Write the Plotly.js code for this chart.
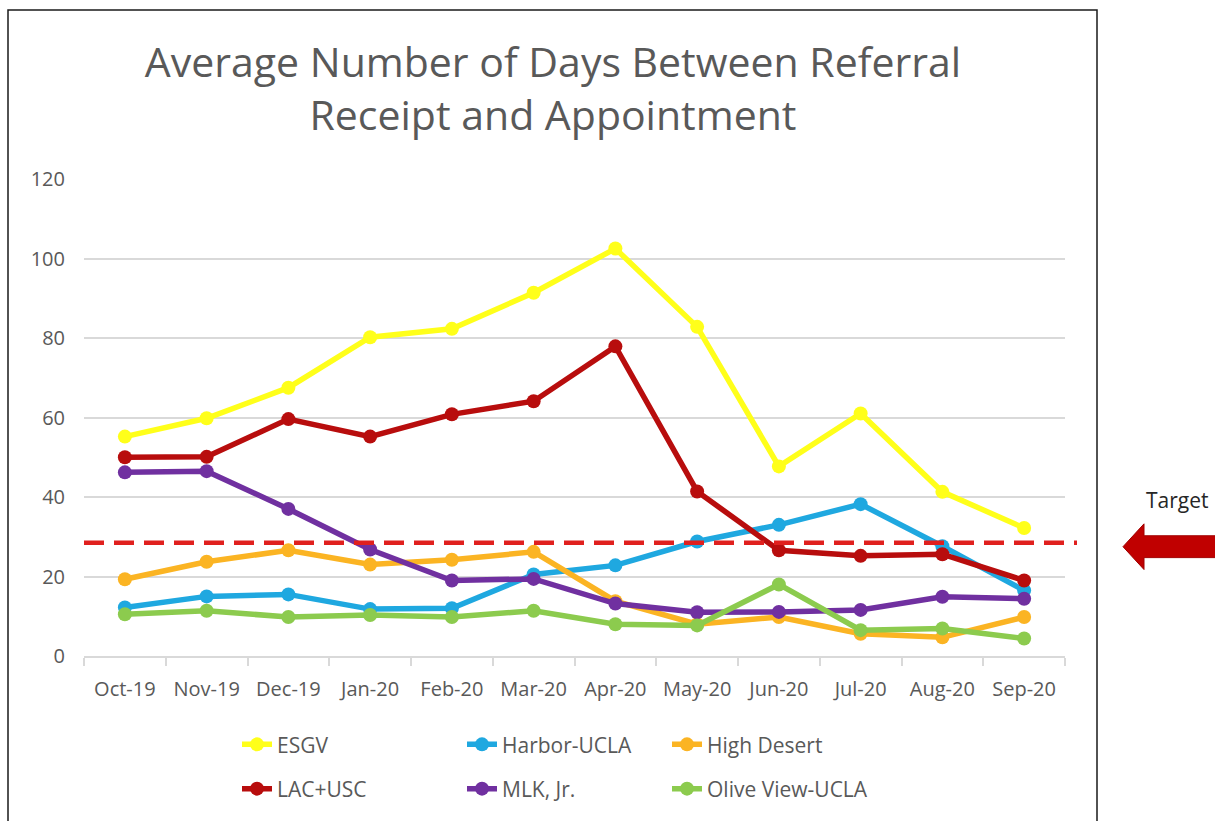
<!DOCTYPE html>
<html>
<head>
<meta charset="utf-8">
<script src="https://cdn.plot.ly/plotly-3.0.1.min.js"></script>
<style>
  html, body { margin: 0; padding: 0; background: #ffffff; }
  #chart { width: 1215px; height: 821px; }
</style>
</head>
<body>
<div id="chart"></div>
<script>
// ---- Data ----
const months = ["Oct-19", "Nov-19", "Dec-19", "Jan-20", "Feb-20", "Mar-20", "Apr-20", "May-20", "Jun-20", "Jul-20", "Aug-20", "Sep-20"];
const esgv       = [55.2, 59.8, 67.5, 80.2, 82.3, 91.4, 102.5, 82.8, 47.7, 61.0, 41.3, 32.2];
const harborUcla = [12.2, 15.0, 15.5, 11.8, 12.0, 20.5, 22.8, 28.8, 33.0, 38.2, 27.6, 16.5];
const highDesert = [19.3, 23.7, 26.6, 23.0, 24.2, 26.2, 13.8, 8.0, 9.8, 5.6, 4.7, 9.8];
const lacUsc     = [50.0, 50.1, 59.6, 55.2, 60.8, 64.1, 77.9, 41.4, 26.6, 25.2, 25.6, 19.0];
const mlkJr      = [46.2, 46.5, 37.0, 26.8, 19.0, 19.4, 13.2, 11.0, 11.1, 11.6, 14.9, 14.4];
const oliveView  = [10.5, 11.4, 9.8, 10.3, 9.8, 11.4, 8.0, 7.7, 18.0, 6.5, 6.9, 4.4];
const targetValue = 28.5;
const seriesNames = ["ESGV", "Harbor-UCLA", "High Desert", "LAC+USC", "MLK, Jr.", "Olive View-UCLA"];
const yTicks = [0, 20, 40, 60, 80, 100, 120];

// ---- Styles ----
const colors = ["#FFFF1A", "#1FA8E0", "#FBB423", "#B80D0D", "#7030A0", "#8CCB4E"];
const legendOf = ["legend", "legend2", "legend3", "legend", "legend2", "legend3"];
const seriesData = [esgv, harborUcla, highDesert, lacUsc, mlkJr, oliveView];

const traces = seriesData.map((vals, i) => ({
  type: "scatter",
  mode: "lines+markers",
  x: months,
  y: vals,
  name: seriesNames[i],
  legend: legendOf[i],
  legendgroup: "g" + i,
  line: { color: colors[i], width: 5.5 },
  marker: { color: colors[i], size: 14 },
  hoverinfo: "x+y+name"
}));

// plot area in pixels (for decorative shapes outside the axes)
const L = 84, R = 150, T = 179, B = 162, W = 1215, H = 821;
const pw = W - L - R, ph = H - T - B;
const px = v => (v - L) / pw;
const py = v => (H - B - v) / ph;

const arrowPath = "M" + px(1123) + "," + py(549) +
  " L" + px(1144) + "," + py(526) +
  " L" + px(1144) + "," + py(538) +
  " L" + px(1225) + "," + py(538) +
  " L" + px(1225) + "," + py(560) +
  " L" + px(1144) + "," + py(560) +
  " L" + px(1144) + "," + py(572) + " Z";

const tickFont = { family: "Open Sans, sans-serif", size: 20, color: "#595959" };
const legendBase = {
  orientation: "v",
  xanchor: "left",
  yanchor: "top",
  y: -0.143,
  font: { family: "Open Sans, sans-serif", size: 21, color: "#595959" },
  bgcolor: "rgba(0,0,0,0)",
  traceorder: "grouped",
  tracegroupgap: 14
};

const layout = {
  width: W,
  height: H,
  margin: { l: L, r: R, t: T, b: B, pad: 0 },
  paper_bgcolor: "#ffffff",
  plot_bgcolor: "#ffffff",
  showlegend: true,
  title: {
    text: "Average Number of Days Between Referral<br>Receipt and Appointment",
    font: { family: "Open Sans, sans-serif", size: 41, color: "#595959" },
    xref: "paper",
    x: px(553),
    xanchor: "center",
    yref: "container",
    y: 1 - 77 / H,
    yanchor: "top"
  },
  xaxis: {
    type: "category",
    range: [-0.5, 11.5],
    showgrid: false,
    showline: true,
    linecolor: "#D9D9D9",
    linewidth: 1.5,
    ticks: "outside",
    tickson: "boundaries",
    ticklen: 8,
    tickcolor: "#D9D9D9",
    tickwidth: 1.5,
    tickfont: tickFont,
    ticklabelstandoff: 14,
    zeroline: false,
    fixedrange: true
  },
  yaxis: {
    range: [0, 120],
    tickvals: yTicks,
    ticktext: yTicks.map(String),
    showgrid: true,
    gridcolor: "#D9D9D9",
    gridwidth: 1.5,
    showline: false,
    zeroline: false,
    ticks: "",
    tickfont: tickFont,
    ticklabelstandoff: 18,
    fixedrange: true
  },
  legend:  Object.assign({}, legendBase, { x: px(237) }),
  legend2: Object.assign({}, legendBase, { x: px(462) }),
  legend3: Object.assign({}, legendBase, { x: px(667) }),
  shapes: [
    {
      type: "line", xref: "paper", yref: "y",
      x0: 0, x1: px(1077), y0: targetValue, y1: targetValue,
      line: { color: "#E0201E", width: 4.5, dash: "20px,10px" }
    },
    {
      type: "rect", xref: "paper", yref: "paper",
      x0: px(8), x1: px(1097), y0: py(9), y1: py(840),
      line: { color: "#1a1a1a", width: 1.5 },
      fillcolor: "rgba(0,0,0,0)"
    },
    {
      type: "path", xref: "paper", yref: "paper",
      path: arrowPath,
      fillcolor: "#C00000",
      line: { color: "#A00000", width: 1 }
    }
  ],
  annotations: [
    {
      text: "Target",
      xref: "paper", yref: "paper",
      x: px(1177), y: py(502),
      xanchor: "center", yanchor: "middle",
      showarrow: false,
      font: { family: "Open Sans, sans-serif", size: 21, color: "#262626" }
    }
  ]
};

Plotly.newPlot("chart", traces, layout, { displayModeBar: false, staticPlot: false });
</script>
</body>
</html>
